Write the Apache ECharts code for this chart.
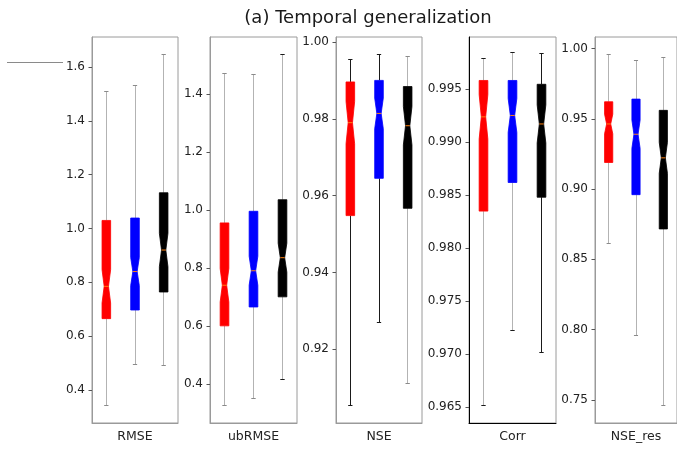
<!DOCTYPE html>
<html>
<head>
<meta charset="utf-8">
<script src="https://cdn.jsdelivr.net/npm/echarts@6/dist/echarts.min.js"></script>
<style>
  html, body { margin: 0; padding: 0; background: #fff; }
  #chart { width: 677px; height: 450px; }
</style>
</head>
<body>
<div id="chart"></div>
<script>
// panels, left to right
const metrics = ["RMSE", "ubRMSE", "NSE", "Corr", "NSE_res"];
const positions = [1, 2, 3];
const boxColors = ["#ff0000", "#0000ff", "#000000"];

// each box: [whiskerLow, q1, median, q3, whiskerHigh]
const rmseBoxes = [
  [0.342, 0.665, 0.785, 1.030, 1.508],
  [0.494, 0.697, 0.840, 1.039, 1.531],
  [0.489, 0.764, 0.920, 1.133, 1.647]
];
const ubrmseBoxes = [
  [0.325, 0.600, 0.740, 0.955, 1.469],
  [0.350, 0.665, 0.790, 0.995, 1.465],
  [0.415, 0.700, 0.835, 1.035, 1.535]
];
const nseBoxes = [
  [0.9054, 0.9548, 0.9790, 0.9896, 0.9954],
  [0.9269, 0.9645, 0.9814, 0.9900, 0.9967],
  [0.9112, 0.9567, 0.9782, 0.9884, 0.9963]
];
const corrBoxes = [
  [0.96515, 0.98348, 0.99237, 0.99580, 0.99786],
  [0.97222, 0.98618, 0.99250, 0.99580, 0.99846],
  [0.97019, 0.98479, 0.99170, 0.99544, 0.99830]
];
const nseResBoxes = [
  [0.8615, 0.9189, 0.9463, 0.9621, 0.9957],
  [0.7960, 0.8960, 0.9390, 0.9640, 0.9917],
  [0.7460, 0.8716, 0.9222, 0.9560, 0.9934]
];

// half height of each notch around the median
const rmseNotch = [0.062, 0.052, 0.062];
const ubrmseNotch = [0.058, 0.050, 0.050];
const nseNotch = [0.0055, 0.0040, 0.0050];
const corrNotch = [0.0021, 0.0016, 0.0018];
const nseResNotch = [0.0070, 0.0100, 0.0110];

// y tick labels
const rmseTicks = [0.4, 0.6, 0.8, 1.0, 1.2, 1.4, 1.6];
const ubrmseTicks = [0.4, 0.6, 0.8, 1.0, 1.2, 1.4];
const nseTicks = [0.92, 0.94, 0.96, 0.98, 1.00];
const corrTicks = [0.965, 0.970, 0.975, 0.980, 0.985, 0.990, 0.995];
const nseResTicks = [0.75, 0.80, 0.85, 0.90, 0.95, 1.00];

// y limits
const yLimits = [
  [0.277, 1.712],
  [0.265, 1.596],
  [0.9008, 1.0013],
  [0.9635, 0.9999],
  [0.7335, 1.0082]
];

const allBoxes = [rmseBoxes, ubrmseBoxes, nseBoxes, corrBoxes, nseResBoxes];
const allNotches = [rmseNotch, ubrmseNotch, nseNotch, corrNotch, nseResNotch];
const allTicks = [rmseTicks, ubrmseTicks, nseTicks, corrTicks, nseResTicks];
const decimals = [1, 1, 2, 3, 2];

const G = "#b3b3b3";   // light whisker
const C = "#8a8a8a";   // light cap
const D = "#1a1a1a";   // dark whisker / cap
const whiskerColors = [[G, G, G], [G, G, G], [D, D, G], [G, G, D], [G, G, G]];
const capColors = [[C, C, C], [C, C, D], [D, D, C], [D, D, D], [C, C, C]];
const spineColors = ["#9a9a9a", "#9a9a9a", "#9a9a9a", "#000000", "#9a9a9a"];

const panelLeft = [92, 210, 336, 469, 595];
const panelWidth = [86, 87, 86, 87, 87];
const FONT = "DejaVu Sans";

function crisp(v) {
  return Math.round(v - 0.5) + 0.5;
}

function makeRenderer(panel) {
  return function (params, api) {
    const i = params.dataIndex;
    const x = api.value(0);
    const at = (v) => api.coord([x, v]);
    const unit = api.size([1, 0])[0];
    const hw = 0.15 * unit;
    const cw = 0.075 * unit;
    const cx = at(api.value(3))[0];
    const yLo = crisp(at(api.value(1))[1]);
    const yQ1 = at(api.value(2))[1];
    const med = api.value(3);
    const yMed = at(med)[1];
    const yQ3 = at(api.value(4))[1];
    const yHi = crisp(at(api.value(5))[1]);
    const notch = api.value(6);
    const yNHi = at(med + notch)[1];
    const yNLo = at(med - notch)[1];
    const xc = crisp(cx);
    const wc = whiskerColors[panel][i];
    const capc = capColors[panel][i];
    const fill = boxColors[i];

    return {
      type: "group",
      children: [
        { type: "line", shape: { x1: xc, y1: yQ1, x2: xc, y2: yLo }, style: { stroke: wc, lineWidth: 1 } },
        { type: "line", shape: { x1: xc, y1: yQ3, x2: xc, y2: yHi }, style: { stroke: wc, lineWidth: 1 } },
        { type: "line", shape: { x1: cx - cw, y1: yLo, x2: cx + cw, y2: yLo }, style: { stroke: capc, lineWidth: 1 } },
        { type: "line", shape: { x1: cx - cw, y1: yHi, x2: cx + cw, y2: yHi }, style: { stroke: capc, lineWidth: 1 } },
        {
          type: "polygon",
          shape: {
            points: [
              [cx - hw, yQ3], [cx + hw, yQ3], [cx + hw, yNHi], [cx + hw / 2, yMed],
              [cx + hw, yNLo], [cx + hw, yQ1], [cx - hw, yQ1], [cx - hw, yNLo],
              [cx - hw / 2, yMed], [cx - hw, yNHi]
            ]
          },
          style: { fill: fill, stroke: fill, lineWidth: 0.8 }
        },
        {
          type: "line",
          shape: { x1: cx - hw / 2, y1: yMed, x2: cx + hw / 2, y2: yMed },
          style: { stroke: "#ff7f0e", lineWidth: 1 }
        }
      ]
    };
  };
}

const grids = [];
const xAxes = [];
const yAxes = [];
const series = [];

metrics.forEach((name, p) => {
  grids.push({
    left: panelLeft[p],
    top: 37,
    width: panelWidth[p],
    height: 386,
    show: true,
    borderColor: "#9a9a9a",
    borderWidth: 1,
    backgroundColor: "transparent"
  });
  xAxes.push({
    type: "value",
    gridIndex: p,
    min: 0.5,
    max: 3.5,
    name: name,
    nameLocation: "middle",
    nameGap: 7,
    nameTextStyle: { fontFamily: FONT, fontSize: 12.5, color: "#222", verticalAlign: "top" },
    axisLine: { show: true, lineStyle: { color: spineColors[p], width: 1 } },
    axisTick: { show: false },
    axisLabel: { show: false },
    splitLine: { show: false }
  });
  yAxes.push({
    type: "value",
    gridIndex: p,
    min: yLimits[p][0],
    max: yLimits[p][1],
    axisLine: { show: true, lineStyle: { color: spineColors[p], width: 1 } },
    axisTick: {
      show: true,
      length: 3.5,
      lineStyle: { color: "#555" },
      customValues: allTicks[p]
    },
    axisLabel: {
      show: true,
      margin: 7,
      fontFamily: FONT,
      fontSize: 12,
      color: "#222",
      customValues: allTicks[p],
      formatter: (v) => Number(v).toFixed(decimals[p])
    },
    splitLine: { show: false }
  });
  series.push({
    type: "custom",
    xAxisIndex: p,
    yAxisIndex: p,
    renderItem: makeRenderer(p),
    encode: { x: 0, y: [1, 2, 3, 4, 5] },
    data: allBoxes[p].map((b, i) => [positions[i], ...b, allNotches[p][i]]),
    silent: true
  });
});

const chart = echarts.init(document.getElementById("chart"), null, { renderer: "canvas" });
chart.setOption({
  animation: false,
  backgroundColor: "#ffffff",
  grid: grids,
  xAxis: xAxes,
  yAxis: yAxes,
  series: series,
  graphic: [
    {
      type: "text",
      x: 368,
      y: 18,
      style: {
        text: "(a) Temporal generalization",
        fontFamily: FONT,
        fontSize: 18,
        fill: "#1a1a1a",
        textAlign: "center",
        textVerticalAlign: "middle"
      }
    },
    {
      type: "line",
      shape: { x1: 7, y1: 62.5, x2: 63, y2: 62.5 },
      style: { stroke: "#8a8a8a", lineWidth: 1 }
    }
  ]
});
</script>
</body>
</html>
